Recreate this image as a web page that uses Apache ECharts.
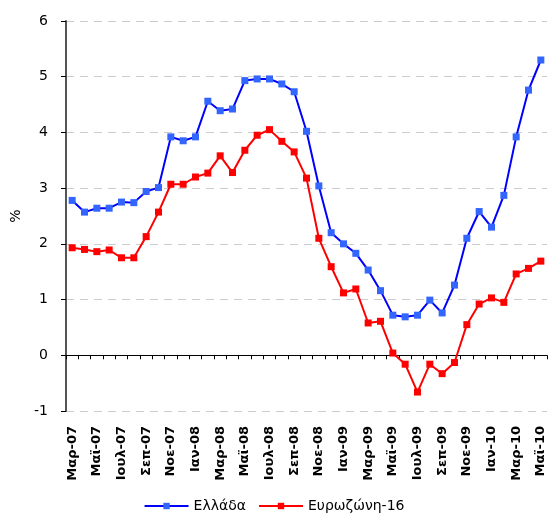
<!DOCTYPE html>
<html>
<head>
<meta charset="utf-8">
<script src="https://cdn.jsdelivr.net/npm/echarts@6/dist/echarts.min.js"></script>
<style>
  html, body { margin: 0; padding: 0; background: #fff; }
  #chart { width: 548px; height: 519px; }
</style>
</head>
<body>
<div id="chart"></div>
<script>
// Monthly categories, March 2007 – May 2010
const months = [
  'Μαρ-07','Απρ-07','Μαϊ-07','Ιουν-07','Ιουλ-07','Αυγ-07','Σεπ-07','Οκτ-07','Νοε-07','Δεκ-07',
  'Ιαν-08','Φεβ-08','Μαρ-08','Απρ-08','Μαϊ-08','Ιουν-08','Ιουλ-08','Αυγ-08','Σεπ-08','Οκτ-08','Νοε-08','Δεκ-08',
  'Ιαν-09','Φεβ-09','Μαρ-09','Απρ-09','Μαϊ-09','Ιουν-09','Ιουλ-09','Αυγ-09','Σεπ-09','Οκτ-09','Νοε-09','Δεκ-09',
  'Ιαν-10','Φεβ-10','Μαρ-10','Απρ-10','Μαϊ-10'
];

// Annual inflation, %
const greece = [
  2.78, 2.57, 2.64, 2.64, 2.75, 2.74, 2.94, 3.01, 3.92, 3.85,
  3.92, 4.56, 4.39, 4.42, 4.93, 4.96, 4.96, 4.87, 4.73, 4.02, 3.04, 2.20,
  2.00, 1.83, 1.53, 1.16, 0.72, 0.69, 0.72, 0.99, 0.76, 1.26, 2.10, 2.58,
  2.30, 2.87, 3.92, 4.76, 5.30
];
const euroArea = [
  1.93, 1.90, 1.86, 1.89, 1.75, 1.75, 2.13, 2.57, 3.07, 3.07,
  3.20, 3.27, 3.58, 3.28, 3.68, 3.95, 4.05, 3.84, 3.65, 3.18, 2.10, 1.59,
  1.12, 1.19, 0.58, 0.61, 0.04, -0.16, -0.66, -0.16, -0.33, -0.13, 0.55, 0.92,
  1.03, 0.95, 1.46, 1.56, 1.69
];

const seriesNames = ['Ελλάδα', 'Ευρωζώνη-16'];
const yTicks = { min: -1, max: 6, step: 1 };

const chart = echarts.init(document.getElementById('chart'), null, { renderer: 'canvas' });

const font = 'Tahoma, "DejaVu Sans", Verdana, sans-serif';

chart.setOption({
  animation: false,
  backgroundColor: '#ffffff',
  grid: { left: 66, right: 1, top: 21, bottom: 108, containLabel: false },
  legend: {
    bottom: 1,
    left: 'center',
    itemWidth: 44,
    itemHeight: 8,
    itemGap: 12,
    textStyle: { fontFamily: font, fontSize: 14, color: '#000' },
    data: seriesNames
  },
  xAxis: [
    {
      type: 'category',
      data: months,
      boundaryGap: true,
      axisLine: { onZero: true, lineStyle: { color: '#000', width: 1 } },
      axisTick: { show: true, interval: 0, length: 4, lineStyle: { color: '#000' } },
      axisLabel: { show: false },
      splitLine: { show: false }
    },
    {
      type: 'category',
      data: months,
      boundaryGap: true,
      position: 'bottom',
      axisLine: { show: false, onZero: false },
      axisTick: { show: false },
      axisLabel: {
        show: true,
        interval: 1,
        rotate: 90,
        margin: 15,
        fontFamily: font,
        fontWeight: 'bold',
        fontSize: 13,
        color: '#000'
      },
      splitLine: { show: false }
    }
  ],
  yAxis: {
    type: 'value',
    min: yTicks.min,
    max: yTicks.max,
    interval: yTicks.step,
    name: '%',
    nameLocation: 'middle',
    nameGap: 42,
    nameRotate: 90,
    nameTextStyle: { fontFamily: font, fontSize: 14, color: '#000' },
    axisLine: { show: true, lineStyle: { color: '#555', width: 2 } },
    axisTick: { show: true, length: 5, lineStyle: { color: '#000' } },
    axisLabel: { fontFamily: font, fontSize: 14, color: '#000', margin: 18 },
    splitLine: { show: true, lineStyle: { color: '#cccccc', type: [8, 6], width: 1 } }
  },
  series: [
    {
      name: seriesNames[0],
      type: 'line',
      xAxisIndex: 0,
      data: greece,
      symbol: 'rect',
      symbolSize: 7,
      lineStyle: { color: '#0000ff', width: 2 },
      itemStyle: { color: '#3366ff' },
      z: 3
    },
    {
      name: seriesNames[1],
      type: 'line',
      xAxisIndex: 0,
      data: euroArea,
      symbol: 'rect',
      symbolSize: 7,
      lineStyle: { color: '#ff0000', width: 2 },
      itemStyle: { color: '#ff0000' },
      z: 2
    }
  ]
});
</script>
</body>
</html>
